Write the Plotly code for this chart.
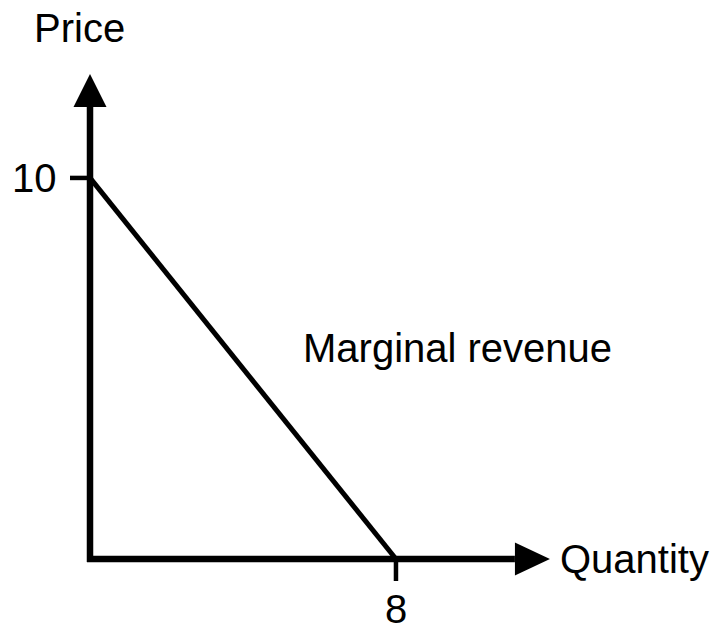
import plotly.graph_objects as go

# Marginal revenue line (quantity, price)
quantity = [0, 8]
price = [10, 0]

x_ticks = [8]
x_tick_labels = ["8"]
y_ticks = [10]
y_tick_labels = ["10"]

x_title = "Quantity"
y_title = "Price"
curve_label = "Marginal revenue"

W, H = 723, 627
x_range = [-2.144, 16.76]
y_range = [-1.995, 14.46]
px_x = W / (x_range[1] - x_range[0])
px_y = H / (y_range[1] - y_range[0])

AX = "black"
LW = 6.5
FONT = dict(family="Arial, Liberation Sans, sans-serif", size=40, color="black")

# axis extents (data units)
x_end = 11.11
y_end = 11.86
head_len_x = 35 / px_x
head_len_y = 33 / px_y
head_half_x = 16.5 / px_x
head_half_y = 16.5 / px_y

fig = go.Figure()

# axes lines
fig.add_trace(go.Scatter(x=[0, 0], y=[-3 / px_y, y_end], mode="lines",
                         line=dict(color=AX, width=LW), hoverinfo="skip"))
fig.add_trace(go.Scatter(x=[-3 / px_x, x_end], y=[0, 0], mode="lines",
                         line=dict(color=AX, width=LW), hoverinfo="skip"))

# marginal revenue line
fig.add_trace(go.Scatter(x=quantity, y=price, mode="lines",
                         line=dict(color=AX, width=5), hoverinfo="skip"))

# ticks
for t in y_ticks:
    fig.add_trace(go.Scatter(x=[-20 / px_x, 0], y=[t, t], mode="lines",
                             line=dict(color=AX, width=4.5), hoverinfo="skip"))
for t in x_ticks:
    fig.add_trace(go.Scatter(x=[t, t], y=[0, -22 / px_y], mode="lines",
                             line=dict(color=AX, width=4.5), hoverinfo="skip"))

shapes = [
    # y arrow head
    dict(type="path", xref="x", yref="y",
         path=f"M {-head_half_x},{y_end} L {head_half_x},{y_end} L 0,{y_end + head_len_y} Z",
         fillcolor=AX, line=dict(width=0)),
    # x arrow head
    dict(type="path", xref="x", yref="y",
         path=f"M {x_end},{-head_half_y} L {x_end},{head_half_y} L {x_end + head_len_x},0 Z",
         fillcolor=AX, line=dict(width=0)),
]

annotations = []
for t, lab in zip(y_ticks, y_tick_labels):
    annotations.append(dict(x=-31 / px_x, y=t, text=lab, xanchor="right", yanchor="middle",
                            showarrow=False, font=FONT))
for t, lab in zip(x_ticks, x_tick_labels):
    annotations.append(dict(x=t, y=-50 / px_y, text=lab, xanchor="center", yanchor="middle",
                            height=40, borderpad=0, showarrow=False, font=FONT))
annotations.append(dict(x=-11 / px_x, y=13.94, text=y_title, xanchor="center",
                        yanchor="middle", height=40, borderpad=0,
                        showarrow=False, font=FONT))
annotations.append(dict(x=x_end + head_len_x + 8 / px_x, y=0, text=x_title, xanchor="left",
                        yanchor="middle", showarrow=False, font=FONT))
annotations.append(dict(x=9.62, y=5.55, text=curve_label, xanchor="center", yanchor="middle",
                        showarrow=False, font=FONT))

fig.update_layout(
    width=W, height=H,
    margin=dict(l=0, r=0, t=0, b=0),
    paper_bgcolor="white", plot_bgcolor="white",
    showlegend=False,
    xaxis=dict(range=x_range, visible=False, fixedrange=True),
    yaxis=dict(range=y_range, visible=False, fixedrange=True),
    shapes=shapes,
    annotations=annotations,
)

fig.write_html("out.html")
